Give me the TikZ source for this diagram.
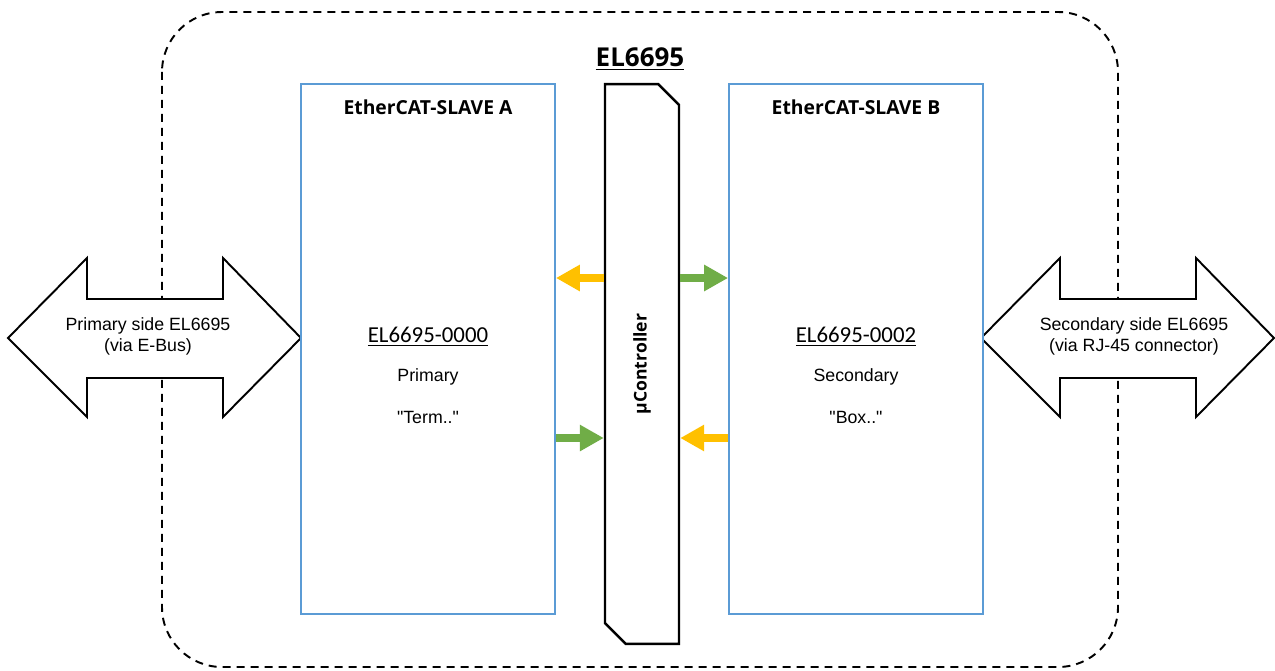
\documentclass[tikz,border=0pt]{standalone}
\usepackage{fontspec}
\setmainfont{Liberation Sans}
\newfontfamily\headfont{Open Sans}
\newfontfamily\partfont{Carlito}
\usetikzlibrary{arrows.meta, positioning, shapes.misc, calc}

\definecolor{boxblue}{HTML}{5B9BD5}
\definecolor{flowyellow}{HTML}{FFC000}
\definecolor{flowgreen}{HTML}{70AD47}

\begin{document}
\begin{tikzpicture}[
    x=0.02cm, y=-0.02cm,
    frame/.style={draw, line width=1.1pt, dash pattern=on 0.16cm off 0.12cm,
                  rounded corners=1.2cm},
    slavebox/.style={draw=boxblue, line width=1.1pt, fill=white,
                     minimum width=5.08cm, minimum height=10.6cm, inner sep=0pt},
    ctrlbox/.style={chamfered rectangle, chamfered rectangle corners={north east, south west},
                    chamfered rectangle xsep=0.24cm, chamfered rectangle ysep=0.22cm,
                    draw, line width=1.4pt, fill=white, inner sep=0pt,
                    minimum width=1.48cm, minimum height=11.2cm},
    bigarrow/.style={draw, line width=1.1pt, fill=white, line join=miter},
    flow/.style={line width=0.16cm, -{Triangle[length=0.48cm, width=0.5cm]}},
    slavehead/.style={font=\headfont\bfseries\fontsize{11}{13}\selectfont},
    partno/.style={font=\partfont\fontsize{13}{15}\selectfont},
    plain/.style={font=\fontsize{10.1}{12}\selectfont, align=center}
  ]
  \useasboundingbox (0,0) rectangle (1275,670);

  % outer device frame
  \draw[frame] (162,12) rectangle (1118,667);

  % interface arrows on both sides
  \foreach \dx/\tx/\name/\lbl in {0/148/pri/{Primary side EL6695\\(via E-Bus)},
                                  973/1134/sec/{Secondary side EL6695\\(via RJ-45 connector)}} {
    \draw[bigarrow, xshift=\dx*0.02cm]
      (8,338) -- (87,258) -- (87,299) -- (223,299) -- (223,258) -- (301,338)
      -- (223,417) -- (223,378) -- (87,378) -- (87,417) -- cycle;
    \node[plain] (\name) at (\tx,336) {\lbl};
  }

  % slaves and controller
  \node[slavebox] (slaveA) at (428,349) {};
  \node[slavebox] (slaveB) at (856,349) {};
  \node[ctrlbox] (ctrl) at (642,364)
    {\rotatebox{90}{\headfont\bfseries\fontsize{10}{12}\selectfont µController}};
  \node[font=\headfont\bfseries\fontsize{14.8}{17}\selectfont] (title) at (640,59) {\underline{EL6695}};

  % slave A texts
  \node[slavehead] (headA) at (428,107) {EtherCAT-SLAVE A};
  \node[partno] (partA) at (428,337) {\underline{EL6695-0000}};
  \node[plain] (roleA) at (428,377) {Primary};
  \node[plain] (nickA) at (428,417) {\textquotedbl Term..\textquotedbl};

  % slave B texts
  \node[slavehead] (headB) at (856,107) {EtherCAT-SLAVE B};
  \node[partno] (partB) at (856,337) {\underline{EL6695-0002}};
  \node[plain] (roleB) at (856,377) {Secondary};
  \node[plain] (nickB) at (856,417) {\textquotedbl Box..\textquotedbl};

  % data flow
  \coordinate (upper) at (0,278);
  \coordinate (lower) at (0,438);
  \draw[flow, flowyellow] (ctrl.west |- upper) -- (slaveA.east |- upper);
  \draw[flow, flowgreen] (ctrl.east |- upper) -- (slaveB.west |- upper);
  \draw[flow, flowgreen] (slaveA.east |- lower) -- (ctrl.west |- lower);
  \draw[flow, flowyellow] (slaveB.west |- lower) -- (ctrl.east |- lower);
\end{tikzpicture}
\end{document}
